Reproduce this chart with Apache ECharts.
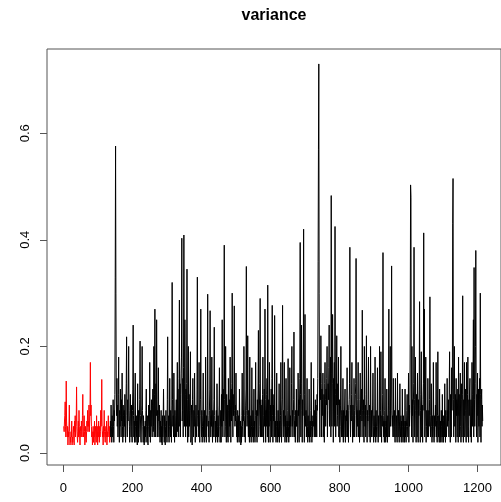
<!DOCTYPE html>
<html><head><meta charset="utf-8">
<script src="https://cdn.jsdelivr.net/npm/echarts@6/dist/echarts.min.js"></script>
<style>html,body{margin:0;padding:0;background:#fff}#c{width:501px;height:502px}</style>
</head><body><div id="c"></div>
<script>
const chartTitle = 'variance';
const xTicks = [0, 200, 400, 600, 800, 1000, 1200];
const yTicks = [0, 0.2, 0.4, 0.6];
const redStart = 1;
const redValues = [
0.05,0.04,0.06,0.07,0.096,0.05,0.03,0.135,0.06,0.04,0.03,0.05,0.015,0.04,0.03,0.05,0.09,0.04,0.015,0.03,
0.02,0.04,0.03,0.06,0.015,0.03,0.02,0.04,0.05,0.03,0.015,0.06,0.04,0.07,0.03,0.05,0.06,0.124,0.05,0.03,
0.02,0.04,0.06,0.03,0.08,0.05,0.03,0.015,0.04,0.05,0.03,0.06,0.04,0.03,0.07,0.11,0.05,0.03,0.04,0.07,
0.04,0.015,0.03,0.05,0.03,0.02,0.04,0.06,0.05,0.08,0.04,0.06,0.05,0.09,0.04,0.06,0.08,0.17,0.07,0.09,
0.05,0.03,0.04,0.015,0.03,0.05,0.02,0.04,0.03,0.06,0.015,0.03,0.05,0.04,0.02,0.07,0.03,0.05,0.015,0.04,
0.03,0.06,0.04,0.02,0.05,0.03,0.04,0.08,0.05,0.06,0.138,0.05,0.03,0.04,0.015,0.05,0.03,0.08,0.04,0.03,
0.02,0.04,0.05,0.03,0.06,0.015,0.04,0.03,0.05,0.07,0.04,0.03,0.05,0.02,0.04,0.06
];
const blackStart = 136;
const blackValues = [
0.06,0.03,0.09,0.05,0.02,0.07,0.03,0.06,0.10,0.05,0.02,0.08,0.06,0.11,0.33,0.576,0.30,0.12,0.07,0.14,
0.05,0.09,0.03,0.11,0.18,0.06,0.02,0.08,0.05,0.12,0.07,0.03,0.10,0.06,0.15,0.05,0.02,0.09,0.07,0.03,
0.08,0.05,0.11,0.06,0.02,0.09,0.13,0.218,0.07,0.03,0.10,0.06,0.12,0.20,0.08,0.05,0.02,0.07,0.11,0.06,
0.03,0.09,0.05,0.02,0.08,0.12,0.24,0.07,0.03,0.06,0.02,0.09,0.15,0.05,0.02,0.07,0.03,0.06,0.015,0.13,
0.05,0.02,0.08,0.03,0.06,0.10,0.21,0.07,0.03,0.02,0.06,0.09,0.20,0.08,0.05,0.02,0.07,0.03,0.015,0.05,
0.02,0.06,0.03,0.08,0.12,0.05,0.02,0.07,0.03,0.015,0.05,0.09,0.06,0.03,0.17,0.06,0.02,0.08,0.05,0.10,
0.06,0.03,0.09,0.12,0.04,0.05,0.20,0.03,0.11,0.27,0.09,0.03,0.13,0.07,0.25,0.10,0.03,0.08,0.06,0.16,
0.07,0.03,0.09,0.05,0.02,0.06,0.03,0.08,0.02,0.05,0.015,0.07,0.03,0.06,0.12,0.05,0.02,0.07,0.03,0.015,
0.05,0.08,0.03,0.06,0.02,0.10,0.218,0.06,0.03,0.07,0.02,0.05,0.14,0.06,0.03,0.08,0.05,0.02,0.09,0.32,
0.10,0.05,0.07,0.03,0.15,0.06,0.02,0.08,0.05,0.03,0.07,0.10,0.03,0.09,0.17,0.04,0.12,0.06,0.03,0.14,
0.287,0.05,0.13,0.03,0.11,0.15,0.18,0.403,0.06,0.08,0.14,0.03,0.16,0.409,0.13,0.05,0.25,0.11,0.03,0.12,
0.05,0.13,0.345,0.10,0.02,0.09,0.20,0.03,0.11,0.05,0.08,0.12,0.19,0.02,0.03,0.09,0.07,0.015,0.10,0.14,
0.06,0.03,0.08,0.05,0.15,0.07,0.02,0.06,0.09,0.05,0.03,0.12,0.33,0.07,0.05,0.08,0.03,0.17,0.06,0.02,
0.07,0.10,0.27,0.06,0.03,0.08,0.02,0.05,0.07,0.15,0.03,0.06,0.02,0.08,0.05,0.03,0.18,0.06,0.02,0.07,
0.05,0.09,0.298,0.07,0.03,0.06,0.02,0.08,0.12,0.267,0.06,0.03,0.07,0.05,0.18,0.06,0.02,0.08,0.03,0.06,
0.10,0.236,0.07,0.03,0.06,0.02,0.05,0.08,0.03,0.13,0.05,0.02,0.07,0.03,0.06,0.09,0.16,0.05,0.02,0.06,
0.08,0.02,0.11,0.05,0.25,0.09,0.03,0.12,0.06,0.15,0.39,0.10,0.03,0.05,0.20,0.08,0.02,0.11,0.07,0.03,
0.09,0.02,0.14,0.08,0.03,0.10,0.05,0.18,0.09,0.02,0.12,0.06,0.13,0.30,0.09,0.03,0.11,0.07,0.10,0.276,
0.08,0.05,0.09,0.06,0.15,0.07,0.03,0.06,0.02,0.08,0.05,0.03,0.07,0.02,0.12,0.05,0.03,0.06,0.015,0.05,
0.02,0.07,0.15,0.05,0.03,0.08,0.06,0.20,0.07,0.03,0.06,0.02,0.09,0.12,0.35,0.08,0.05,0.07,0.22,0.06,
0.03,0.08,0.05,0.02,0.18,0.06,0.03,0.07,0.02,0.05,0.16,0.06,0.03,0.08,0.02,0.05,0.12,0.03,0.06,0.02,
0.07,0.17,0.05,0.03,0.08,0.02,0.10,0.07,0.12,0.23,0.03,0.05,0.09,0.13,0.29,0.03,0.10,0.06,0.03,0.09,
0.03,0.11,0.18,0.07,0.02,0.09,0.12,0.05,0.27,0.10,0.02,0.08,0.05,0.11,0.14,0.03,0.315,0.09,0.02,0.10,
0.05,0.17,0.08,0.02,0.09,0.06,0.12,0.03,0.14,0.277,0.07,0.02,0.09,0.06,0.11,0.03,0.258,0.07,0.03,0.06,
0.02,0.05,0.15,0.03,0.06,0.02,0.08,0.03,0.05,0.13,0.02,0.06,0.03,0.07,0.17,0.05,0.02,0.08,0.10,0.277,
0.06,0.03,0.08,0.05,0.17,0.06,0.02,0.07,0.03,0.14,0.05,0.02,0.06,0.03,0.08,0.177,0.05,0.02,0.06,0.03,
0.16,0.05,0.07,0.03,0.06,0.13,0.20,0.05,0.08,0.03,0.06,0.10,0.227,0.07,0.03,0.06,0.02,0.08,0.05,0.12,
0.05,0.08,0.02,0.03,0.15,0.07,0.10,0.02,0.09,0.14,0.395,0.11,0.03,0.13,0.24,0.08,0.02,0.10,0.07,0.12,
0.42,0.09,0.02,0.11,0.26,0.07,0.05,0.08,0.03,0.06,0.14,0.05,0.02,0.07,0.03,0.05,0.12,0.03,0.02,0.06,
0.03,0.08,0.17,0.05,0.02,0.06,0.03,0.07,0.05,0.14,0.06,0.03,0.08,0.05,0.10,0.03,0.09,0.07,0.03,0.11,
0.08,0.14,0.36,0.57,0.73,0.30,0.12,0.03,0.15,0.10,0.22,0.13,0.03,0.12,0.07,0.10,0.15,0.03,0.06,0.11,
0.02,0.13,0.17,0.10,0.05,0.12,0.09,0.14,0.20,0.03,0.08,0.13,0.10,0.16,0.24,0.05,0.09,0.14,0.18,0.03,
0.483,0.15,0.05,0.13,0.26,0.12,0.02,0.14,0.10,0.17,0.05,0.425,0.11,0.03,0.12,0.09,0.22,0.05,0.07,0.13,
0.09,0.18,0.03,0.06,0.10,0.02,0.05,0.09,0.20,0.07,0.03,0.08,0.03,0.06,0.14,0.02,0.08,0.03,0.06,0.09,
0.12,0.02,0.07,0.03,0.08,0.06,0.16,0.03,0.09,0.06,0.02,0.08,0.10,0.13,0.386,0.08,0.03,0.09,0.06,0.11,
0.17,0.07,0.02,0.09,0.06,0.03,0.14,0.08,0.03,0.07,0.11,0.13,0.365,0.09,0.03,0.08,0.05,0.10,0.17,0.03,
0.05,0.08,0.02,0.10,0.15,0.07,0.03,0.09,0.12,0.06,0.268,0.08,0.03,0.07,0.10,0.02,0.20,0.08,0.05,0.09,
0.03,0.11,0.22,0.07,0.02,0.08,0.06,0.10,0.18,0.07,0.03,0.09,0.06,0.02,0.20,0.07,0.03,0.08,0.03,0.06,
0.09,0.15,0.05,0.02,0.07,0.05,0.03,0.18,0.06,0.02,0.08,0.05,0.03,0.06,0.16,0.05,0.02,0.07,0.03,0.06,
0.20,0.06,0.03,0.08,0.19,0.05,0.02,0.07,0.05,0.11,0.376,0.07,0.03,0.06,0.02,0.08,0.14,0.05,0.02,0.06,
0.03,0.12,0.05,0.02,0.07,0.03,0.09,0.27,0.06,0.03,0.08,0.20,0.05,0.07,0.12,0.351,0.08,0.05,0.07,0.03,
0.14,0.06,0.03,0.08,0.05,0.02,0.14,0.06,0.03,0.07,0.05,0.02,0.15,0.06,0.03,0.08,0.05,0.02,0.06,0.13,
0.05,0.03,0.07,0.02,0.06,0.03,0.12,0.05,0.02,0.07,0.03,0.06,0.02,0.05,0.12,0.03,0.06,0.02,0.05,0.08,
0.11,0.05,0.03,0.07,0.15,0.02,0.09,0.05,0.08,0.24,0.503,0.48,0.12,0.03,0.20,0.07,0.10,0.02,0.09,0.13,
0.386,0.10,0.03,0.09,0.18,0.08,0.02,0.11,0.07,0.03,0.15,0.08,0.02,0.10,0.07,0.12,0.284,0.09,0.02,0.08,
0.11,0.19,0.03,0.05,0.09,0.02,0.10,0.13,0.413,0.08,0.27,0.03,0.05,0.09,0.18,0.02,0.05,0.08,0.06,0.03,
0.14,0.06,0.03,0.08,0.05,0.10,0.293,0.07,0.03,0.06,0.13,0.05,0.02,0.07,0.03,0.06,0.17,0.05,0.02,0.07,
0.03,0.06,0.09,0.05,0.17,0.03,0.06,0.02,0.07,0.19,0.05,0.03,0.07,0.02,0.12,0.05,0.02,0.06,0.03,0.08,
0.05,0.02,0.11,0.03,0.06,0.02,0.07,0.05,0.03,0.13,0.06,0.02,0.08,0.05,0.03,0.07,0.14,0.05,0.08,0.06,
0.10,0.03,0.12,0.19,0.08,0.02,0.11,0.07,0.03,0.16,0.08,0.12,0.43,0.515,0.10,0.03,0.12,0.20,0.05,0.06,
0.11,0.02,0.14,0.07,0.10,0.03,0.09,0.12,0.02,0.18,0.07,0.11,0.03,0.09,0.15,0.05,0.02,0.10,0.13,0.03,
0.11,0.295,0.05,0.02,0.10,0.07,0.17,0.03,0.06,0.12,0.08,0.02,0.17,0.09,0.03,0.11,0.18,0.05,0.02,0.10,
0.07,0.12,0.14,0.03,0.06,0.10,0.02,0.09,0.17,0.05,0.11,0.15,0.25,0.03,0.348,0.10,0.05,0.13,0.20,0.38,
0.12,0.03,0.11,0.07,0.15,0.02,0.06,0.12,0.05,0.10,0.14,0.03,0.30,0.11,0.02,0.10,0.12,0.05,0.09,0.06
];

const toPairs = (start, vals) => vals.map((v, i) => [start + i, v]);
const chart = echarts.init(document.getElementById('c'), null, {renderer: 'canvas'});
const FONT = '"Liberation Sans", Arial, sans-serif';
chart.setOption({
  animation: false,
  graphic: [{
    type: 'text', x: 274, y: 16,
    style: {text: chartTitle, textAlign: 'center', textVerticalAlign: 'middle',
            font: 'bold 16px ' + FONT, fill: '#000'}
  }],
  grid: {left: 47, top: 49, right: -4, bottom: 37, show: true, borderColor: '#555', borderWidth: 1},
  xAxis: {
    type: 'value', min: -47.7, max: 1268,
    axisLine: {show: false, onZero: false}, splitLine: {show: false},
    axisTick: {show: true, customValues: xTicks, length: 7, lineStyle: {color: '#555'}},
    axisLabel: {customValues: xTicks, margin: 17, fontSize: 13, color: '#000', fontFamily: FONT,
                formatter: v => String(v)}
  },
  yAxis: {
    type: 'value', min: -0.0225, max: 0.758,
    axisLine: {show: false, onZero: false}, splitLine: {show: false},
    axisTick: {show: true, customValues: yTicks, length: 7, lineStyle: {color: '#555'}},
    axisLabel: {customValues: yTicks, rotate: 90, margin: 15, fontSize: 13, color: '#000', fontFamily: FONT,
                formatter: v => v.toFixed(1)}
  },
  series: [
    {type: 'line', data: toPairs(redStart, redValues), showSymbol: false, symbol: 'none',
     lineStyle: {color: '#ff0000', width: 1}, itemStyle: {color: '#ff0000'}, sampling: null},
    {type: 'line', data: toPairs(blackStart, blackValues), showSymbol: false, symbol: 'none',
     lineStyle: {color: '#000000', width: 1}, itemStyle: {color: '#000000'}, sampling: null}
  ]
});
</script>
</body></html>
